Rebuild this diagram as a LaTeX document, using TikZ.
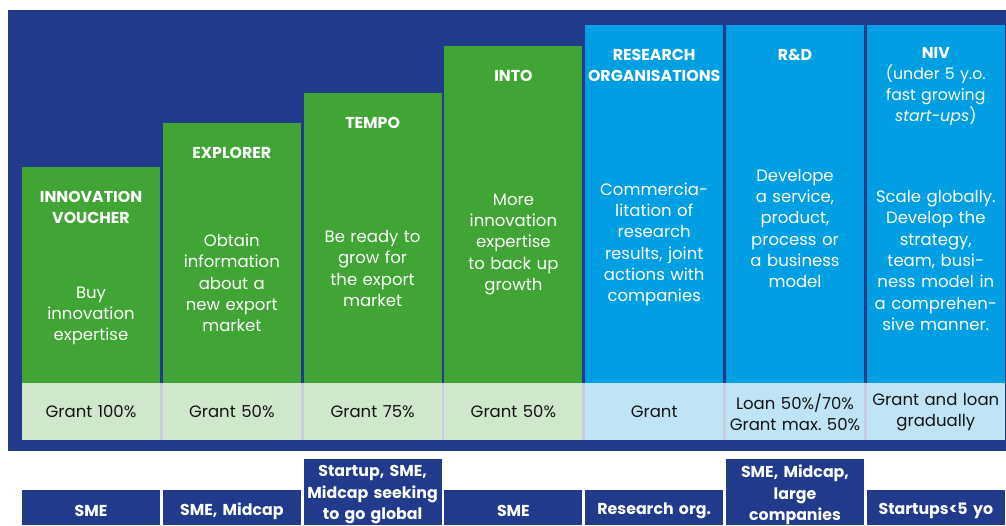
\documentclass[tikz,border=0pt]{standalone}
\usepackage{fontspec}
\setmainfont{Poppins}
\usepackage{xcolor}
\usetikzlibrary{calc}

\definecolor{navy}{RGB}{33,58,140}
\definecolor{leafgreen}{RGB}{64,165,53}
\definecolor{skyblue}{RGB}{0,159,227}
\definecolor{palegreen}{RGB}{207,231,203}
\definecolor{paleblue}{RGB}{191,228,245}
\definecolor{lavender}{RGB}{200,205,225}
\definecolor{ink}{RGB}{20,20,20}

\tikzset{
  headtext/.style={text=white, font=\fontsize{15.8}{21}\selectfont\bfseries, align=center, text width=136pt, inner sep=0pt},
  bodytext/.style={text=white, font=\fontsize{16.5}{21.3}\selectfont, align=center, text width=136pt, inner sep=0pt},
  granttext/.style={text=ink, font=\fontsize{16.5}{21}\selectfont, align=center, text width=136pt, inner sep=0pt},
  usertext/.style={text=white, font=\fontsize{15.8}{21.5}\selectfont\bfseries, align=center, text width=136pt, inner sep=0pt}
}

\begin{document}
\begin{tikzpicture}[x=1pt, y=-1pt]
\useasboundingbox (0,0) rectangle (1006,525);
\fill[navy] (8,10) rectangle (1006,451);
\fill[lavender] (22,383) rectangle (1005,440);

% columns and grant cells
\foreach \t/\c/\p [count=\i] in {167/leafgreen/palegreen, 123/leafgreen/palegreen, 93/leafgreen/palegreen, 46/leafgreen/palegreen, 25/skyblue/paleblue, 25/skyblue/paleblue, 25/skyblue/paleblue}
{
  \fill[\c] ({22+(\i-1)*140.8},\t) rectangle ++(138,383-\t);
  \fill[\p] ({22+(\i-1)*140.8},383) rectangle ++(138,57);
}

\foreach \y/\h [count=\i] in {207/{INNOVATION\\VOUCHER}, 153/EXPLORER, 123/TEMPO, 76/INTO, 65.5/{RESEARCH\\ORGANISATIONS}, 55/{R\&D}}
  \node[headtext] (head-\i) at ({91+(\i-1)*140.8},\y) {\h};
\node[headtext] (head-7) at (935.8,86.5)
  {NIV\\\textmd{(under 5 y.o.}\\\textmd{fast growing}\\\textmd{\textit{start-ups})}};

\foreach \y/\b [count=\i] in {316/{Buy\\innovation\\expertise},
    283/{Obtain\\information\\about a\\new export\\market},
    268.5/{Be ready to\\grow for\\the export\\market},
    244.5/{More\\innovation\\expertise\\to back up\\growth},
    244.5/{Commercia-\\litation of\\research\\results, joint\\actions with\\companies},
    228.5/{Develope\\a service,\\product,\\process or\\a business\\model},
    260.5/{Scale globally.\\Develop the\\strategy,\\team, busi-\\ness model in\\a comprehen-\\sive manner.}}
  \node[bodytext] (body-\i) at ({91+(\i-1)*140.8},\y) {\b};

% grant row
\foreach \g [count=\i] in {Grant 100\%, Grant 50\%, Grant 75\%, Grant 50\%, Grant, {Loan 50\%/70\%\\Grant max.\ 50\%}, {Grant and loan\\gradually}}
  \node[granttext] (grant-\i) at ({91+(\i-1)*140.8},412) {\g};

% target groups
\foreach \t/\y/\u [count=\i] in {490/511/SME, 490/511/{SME, Midcap}, 459/495/{Startup, SME,\\Midcap seeking\\to go global}, 490/511/SME, 490/511/{Research org.}, 459/495/{SME, Midcap,\\large\\companies}, 490/511/{Startups<5 yo}}
{
  \fill[navy] ({22+(\i-1)*140.8},\t) rectangle ++(138,525-\t);
  \node[usertext] (user-\i) at ({91+(\i-1)*140.8},\y) {\u};
}
\end{tikzpicture}
\end{document}
